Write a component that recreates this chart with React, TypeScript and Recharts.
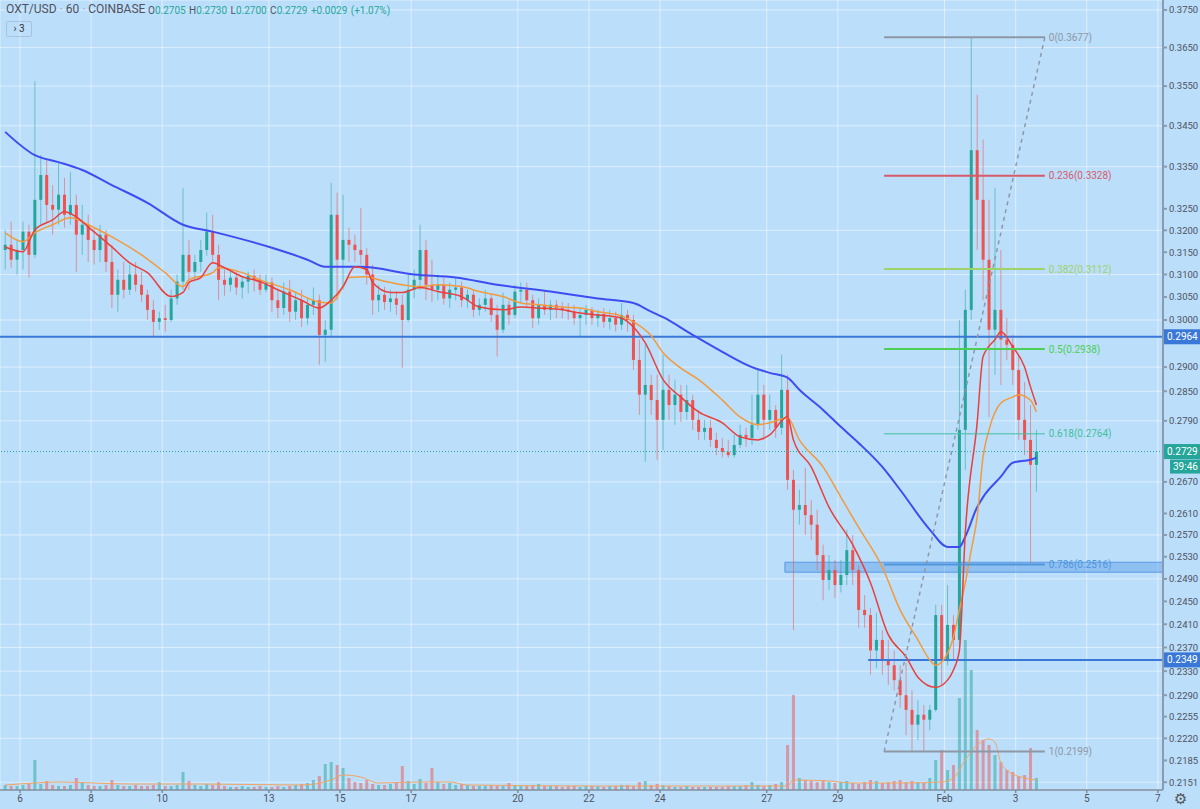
import React from 'react';
import {
  ComposedChart,
  Bar,
  Line,
  XAxis,
  YAxis,
  CartesianGrid,
  ReferenceLine,
  ReferenceArea,
} from 'recharts';

// Time is "day of January" (Feb 1 = 32). First candle opens Jan 5 12:00.
const FIRST_OPEN = 5.5;
const STEP = 1 / 6;
const X_MIN = 5.4376;
const X_MAX = 38.143;

const opens = [
  0.3155, 0.3167, 0.3133, 0.3155, 0.3197, 0.3144, 0.3271, 0.3330, 0.3259, 0.3248,
  0.3283, 0.3236, 0.3259, 0.3190, 0.3213, 0.3178, 0.3155, 0.3190, 0.3128, 0.3055,
  0.3088, 0.3066, 0.3100, 0.3077, 0.3055, 0.3022, 0.2996, 0.3004, 0.3000, 0.3047,
  0.3084, 0.3144, 0.3106, 0.3128, 0.3155, 0.3197, 0.3144, 0.3088, 0.3077, 0.3093,
  0.3071, 0.3084, 0.3097, 0.3088, 0.3066, 0.3082, 0.3043, 0.3026, 0.3062, 0.3018,
  0.3043, 0.3004, 0.3033, 0.3043, 0.2968, 0.2979, 0.3236, 0.3133, 0.3178, 0.3167,
  0.3155, 0.3144, 0.3100, 0.3043, 0.3055, 0.3039, 0.3047, 0.3033, 0.3000, 0.3066,
  0.3088, 0.3155, 0.3077, 0.3066, 0.3077, 0.3047, 0.3066, 0.3071, 0.3043, 0.3055,
  0.3022, 0.3033, 0.3047, 0.3011, 0.2979, 0.3033, 0.3011, 0.3062, 0.3066, 0.3043,
  0.3004, 0.3033, 0.3022, 0.3033, 0.3026, 0.3022, 0.3018, 0.3004, 0.3011, 0.3022,
  0.3004, 0.3013, 0.2996, 0.3004, 0.2990, 0.3011, 0.3000, 0.2915, 0.2843, 0.2863,
  0.2832, 0.2792, 0.2853, 0.2822, 0.2843, 0.2808, 0.2832, 0.2792, 0.2768, 0.2776,
  0.2752, 0.2736, 0.2728, 0.2722, 0.2742, 0.2762, 0.2756, 0.2782, 0.2843, 0.2792,
  0.2812, 0.2776, 0.2853, 0.2674, 0.2617, 0.2626, 0.2607, 0.2589, 0.2533, 0.2488,
  0.2506, 0.2479, 0.2497, 0.2542, 0.2506, 0.2435, 0.2426, 0.2365, 0.2383, 0.2349,
  0.2340, 0.2315, 0.2290, 0.2266, 0.2242, 0.2258, 0.2250, 0.2266, 0.2426, 0.2349,
  0.2409, 0.2383, 0.2772, 0.3022, 0.3390, 0.3271, 0.3133, 0.2979, 0.3022, 0.2958,
  0.2947, 0.2894, 0.2792, 0.2752, 0.2703,
];
const highs = [
  0.3201, 0.3220, 0.3178, 0.3220, 0.3213, 0.3563, 0.3378, 0.3366, 0.3306, 0.3361,
  0.3323, 0.3337, 0.3283, 0.3259, 0.3236, 0.3206, 0.3213, 0.3201, 0.3167, 0.3111,
  0.3128, 0.3122, 0.3128, 0.3106, 0.3066, 0.3043, 0.3018, 0.3033, 0.3066, 0.3100,
  0.3299, 0.3178, 0.3144, 0.3178, 0.3241, 0.3236, 0.3167, 0.3111, 0.3106, 0.3106,
  0.3093, 0.3106, 0.3111, 0.3100, 0.3100, 0.3093, 0.3066, 0.3082, 0.3088, 0.3062,
  0.3066, 0.3047, 0.3071, 0.3055, 0.3000, 0.3311, 0.3288, 0.3283, 0.3206, 0.3190,
  0.3252, 0.3160, 0.3122, 0.3077, 0.3073, 0.3066, 0.3062, 0.3055, 0.3100, 0.3111,
  0.3213, 0.3178, 0.3133, 0.3100, 0.3093, 0.3082, 0.3093, 0.3084, 0.3066, 0.3066,
  0.3047, 0.3066, 0.3055, 0.3033, 0.3060, 0.3043, 0.3077, 0.3082, 0.3082, 0.3055,
  0.3047, 0.3062, 0.3043, 0.3043, 0.3039, 0.3037, 0.3033, 0.3026, 0.3033, 0.3028,
  0.3022, 0.3026, 0.3022, 0.3018, 0.3037, 0.3022, 0.3011, 0.2958, 0.2947, 0.2884,
  0.2884, 0.2926, 0.2884, 0.2874, 0.2863, 0.2863, 0.2843, 0.2812, 0.2792, 0.2792,
  0.2766, 0.2756, 0.2752, 0.2762, 0.2782, 0.2776, 0.2843, 0.2894, 0.2863, 0.2843,
  0.2822, 0.2926, 0.2884, 0.2693, 0.2655, 0.2697, 0.2635, 0.2617, 0.2552, 0.2533,
  0.2524, 0.2524, 0.2580, 0.2570, 0.2515, 0.2461, 0.2438, 0.2430, 0.2400, 0.2383,
  0.2365, 0.2340, 0.2344, 0.2298, 0.2282, 0.2274, 0.2274, 0.2444, 0.2444, 0.2479,
  0.2426, 0.3000, 0.3066, 0.3677, 0.3528, 0.3416, 0.3271, 0.3299, 0.3155, 0.3004,
  0.2968, 0.2926, 0.2869, 0.2822, 0.2772,
];
const lows = [
  0.3111, 0.3115, 0.3100, 0.3111, 0.3093, 0.3137, 0.3213, 0.3220, 0.3190, 0.3213,
  0.3206, 0.3213, 0.3106, 0.3144, 0.3128, 0.3122, 0.3128, 0.3106, 0.3026, 0.3018,
  0.3047, 0.3055, 0.3062, 0.3039, 0.3000, 0.2964, 0.2979, 0.2975, 0.2996, 0.3033,
  0.3066, 0.3066, 0.3088, 0.3106, 0.3142, 0.3128, 0.3043, 0.3053, 0.3062, 0.3055,
  0.3047, 0.3058, 0.3062, 0.3055, 0.3060, 0.3018, 0.3004, 0.3011, 0.2996, 0.3000,
  0.2985, 0.2990, 0.3011, 0.2905, 0.2911, 0.2962, 0.3043, 0.3066, 0.3128, 0.3128,
  0.3122, 0.3077, 0.3011, 0.3018, 0.3022, 0.3018, 0.3011, 0.2898, 0.2996, 0.3047,
  0.3066, 0.3043, 0.3039, 0.3043, 0.3033, 0.3026, 0.3043, 0.3028, 0.3026, 0.3006,
  0.3009, 0.3018, 0.2996, 0.2922, 0.2972, 0.2990, 0.3004, 0.3037, 0.3026, 0.2983,
  0.2990, 0.3011, 0.3000, 0.3004, 0.3004, 0.3000, 0.2990, 0.2964, 0.2990, 0.2990,
  0.2985, 0.2983, 0.2979, 0.2975, 0.2979, 0.2975, 0.2894, 0.2802, 0.2709, 0.2802,
  0.2713, 0.2732, 0.2792, 0.2782, 0.2788, 0.2792, 0.2772, 0.2752, 0.2752, 0.2738,
  0.2722, 0.2717, 0.2717, 0.2717, 0.2736, 0.2738, 0.2742, 0.2772, 0.2752, 0.2772,
  0.2756, 0.2762, 0.2655, 0.2400, 0.2589, 0.2570, 0.2561, 0.2506, 0.2452, 0.2470,
  0.2456, 0.2466, 0.2479, 0.2479, 0.2404, 0.2404, 0.2324, 0.2335, 0.2324, 0.2307,
  0.2298, 0.2269, 0.2225, 0.2199, 0.2217, 0.2199, 0.2233, 0.2263, 0.2307, 0.2340,
  0.2349, 0.2374, 0.2693, 0.3000, 0.3155, 0.3043, 0.2798, 0.2884, 0.2863, 0.2915,
  0.2863, 0.2752, 0.2722, 0.2519, 0.2651,
];
const closes = [
  0.3167, 0.3133, 0.3155, 0.3197, 0.3144, 0.3271, 0.3330, 0.3259, 0.3248, 0.3283,
  0.3236, 0.3259, 0.3190, 0.3213, 0.3178, 0.3155, 0.3190, 0.3128, 0.3055, 0.3088,
  0.3066, 0.3100, 0.3077, 0.3055, 0.3022, 0.2996, 0.3004, 0.3000, 0.3047, 0.3084,
  0.3144, 0.3106, 0.3128, 0.3155, 0.3197, 0.3144, 0.3088, 0.3077, 0.3093, 0.3071,
  0.3084, 0.3097, 0.3088, 0.3066, 0.3082, 0.3043, 0.3026, 0.3062, 0.3018, 0.3043,
  0.3004, 0.3033, 0.3043, 0.2968, 0.2979, 0.3236, 0.3133, 0.3178, 0.3167, 0.3155,
  0.3144, 0.3100, 0.3043, 0.3055, 0.3039, 0.3047, 0.3033, 0.3000, 0.3066, 0.3088,
  0.3155, 0.3077, 0.3066, 0.3077, 0.3047, 0.3066, 0.3071, 0.3043, 0.3055, 0.3022,
  0.3033, 0.3047, 0.3011, 0.2979, 0.3033, 0.3011, 0.3062, 0.3066, 0.3043, 0.3004,
  0.3033, 0.3022, 0.3033, 0.3026, 0.3022, 0.3018, 0.3004, 0.3011, 0.3022, 0.3004,
  0.3013, 0.2996, 0.3004, 0.2990, 0.3011, 0.3000, 0.2915, 0.2843, 0.2863, 0.2832,
  0.2792, 0.2853, 0.2822, 0.2843, 0.2808, 0.2832, 0.2792, 0.2768, 0.2776, 0.2752,
  0.2736, 0.2728, 0.2722, 0.2742, 0.2762, 0.2756, 0.2782, 0.2843, 0.2792, 0.2812,
  0.2776, 0.2853, 0.2674, 0.2617, 0.2626, 0.2607, 0.2589, 0.2533, 0.2488, 0.2506,
  0.2479, 0.2497, 0.2542, 0.2506, 0.2435, 0.2426, 0.2365, 0.2383, 0.2349, 0.2340,
  0.2315, 0.2290, 0.2266, 0.2242, 0.2258, 0.2250, 0.2266, 0.2426, 0.2349, 0.2409,
  0.2383, 0.2772, 0.3022, 0.3390, 0.3271, 0.3133, 0.2979, 0.3022, 0.2958, 0.2947,
  0.2894, 0.2792, 0.2752, 0.2703, 0.2729,
];
// volume, thousands of OXT per 4h bar (rough)
const volumes = [
  5, 4, 4, 5, 6, 30, 6, 9, 5, 4,
  4, 5, 12, 7, 5, 4, 4, 5, 10, 5,
  4, 4, 5, 4, 4, 5, 8, 4, 4, 5,
  18, 9, 5, 4, 6, 5, 8, 4, 3, 3,
  4, 3, 3, 4, 3, 3, 4, 3, 4, 5,
  6, 7, 10, 14, 26, 28, 25, 22, 12, 8,
  7, 10, 6, 5, 5, 6, 7, 24, 9, 6,
  11, 7, 22, 8, 6, 7, 5, 6, 5, 4,
  4, 4, 5, 4, 4, 7, 5, 4, 4, 5,
  6, 4, 4, 4, 3, 4, 4, 3, 4, 4,
  4, 3, 4, 4, 5, 5, 4, 8, 9, 5,
  6, 5, 4, 3, 3, 4, 3, 3, 3, 3,
  3, 3, 4, 4, 4, 5, 8, 5, 4, 5,
  6, 8, 45, 95, 12, 10, 9, 8, 10, 8,
  7, 8, 9, 7, 6, 8, 10, 9, 7, 8,
  9, 10, 8, 9, 8, 7, 12, 30, 40, 20,
  25, 92, 150, 120, 60, 50, 45, 35, 28, 20,
  18, 14, 15, 42, 12,
];

// moving averages, [day, price]
const maSlow = [
  [5.44, 0.3435], [6.37, 0.3378], [7.12, 0.3361], [7.69, 0.3342], [8.53, 0.3306],
  [9.66, 0.3264], [10.58, 0.3213], [11.48, 0.3197], [13.03, 0.316], [14.16, 0.3133],
  [14.58, 0.3117], [15.56, 0.3117], [17.05, 0.31], [18.18, 0.3093], [19.41, 0.3077],
  [20.99, 0.3062], [22.23, 0.3047], [23.24, 0.3037], [23.72, 0.3018], [24.0, 0.3006],
  [24.84, 0.2968], [25.69, 0.2932], [26.53, 0.29], [27.09, 0.2888], [27.51, 0.2878],
  [27.93, 0.2853], [28.5, 0.2812], [29.06, 0.2778], [29.62, 0.2746], [30.18, 0.2699],
  [30.75, 0.2655], [31.59, 0.258], [32.15, 0.2548], [32.35, 0.2548], [32.57, 0.2567],
  [32.86, 0.2622], [33.14, 0.2641], [33.56, 0.268], [33.98, 0.2707], [34.4, 0.2713],
  [34.6, 0.2717],
];
const maMid = [
  [5.44, 0.3194], [6.0, 0.3174], [6.37, 0.3194], [6.84, 0.3213], [7.49, 0.3229],
  [7.97, 0.3213], [8.53, 0.3185], [9.37, 0.3144], [10.08, 0.3104], [10.5, 0.3073],
  [10.78, 0.3088], [11.34, 0.3104], [11.62, 0.3115], [12.19, 0.3104], [12.75, 0.3088],
  [13.59, 0.3066], [14.44, 0.3039], [14.72, 0.3037], [15.0, 0.3073], [15.28, 0.3093],
  [15.7, 0.3095], [16.12, 0.3088], [16.69, 0.3077], [17.25, 0.3073], [17.81, 0.3077],
  [18.37, 0.3073], [18.94, 0.3062], [19.5, 0.3051], [20.06, 0.3037], [20.62, 0.3033],
  [21.19, 0.3028], [21.75, 0.3026], [22.31, 0.3018], [22.87, 0.3009], [23.29, 0.2996],
  [23.72, 0.2966], [24.0, 0.293], [24.56, 0.2898], [25.12, 0.2874], [25.69, 0.2832],
  [26.25, 0.2798], [26.67, 0.2782], [27.09, 0.2786], [27.51, 0.2796], [27.93, 0.2752],
  [28.5, 0.2699], [29.06, 0.2641], [29.62, 0.2584], [30.18, 0.2511], [30.75, 0.2435],
  [31.17, 0.2383], [31.59, 0.2349], [31.73, 0.234], [32.01, 0.2349], [32.15, 0.236],
  [32.29, 0.2388], [32.43, 0.2435], [32.57, 0.2483], [32.72, 0.2542], [32.86, 0.2603],
  [33.0, 0.268], [33.14, 0.2719], [33.28, 0.2772], [33.56, 0.2826], [33.84, 0.2838],
  [34.12, 0.2843], [34.4, 0.2832], [34.63, 0.2808],
];
const maFast = [
  [5.44, 0.3162], [6.0, 0.3151], [6.37, 0.3201], [6.84, 0.3224], [7.27, 0.3243],
  [7.55, 0.3231], [7.97, 0.3208], [8.53, 0.3162], [9.09, 0.3126], [9.66, 0.3104],
  [10.22, 0.3051], [10.5, 0.306], [10.78, 0.3082], [11.06, 0.3093], [11.48, 0.3126],
  [11.76, 0.3115], [12.19, 0.3095], [12.75, 0.3084], [13.31, 0.3066], [13.87, 0.3043],
  [14.44, 0.3026], [14.72, 0.3043], [15.0, 0.3073], [15.42, 0.3117], [15.7, 0.3111],
  [15.98, 0.3082], [16.4, 0.306], [16.83, 0.306], [17.25, 0.3071], [17.81, 0.3062],
  [18.37, 0.3051], [18.94, 0.3028], [19.5, 0.3022], [20.06, 0.3028], [20.62, 0.3026],
  [21.19, 0.3022], [21.75, 0.3015], [22.31, 0.3011], [22.87, 0.3004], [23.29, 0.2985],
  [23.58, 0.2951], [24.0, 0.2874], [24.56, 0.2838], [25.12, 0.2808], [25.69, 0.2786],
  [26.25, 0.2758], [26.67, 0.2752], [27.09, 0.2762], [27.51, 0.2798], [27.79, 0.2752],
  [28.22, 0.2699], [28.78, 0.2622], [29.34, 0.2552], [29.9, 0.2483], [30.47, 0.2392],
  [30.94, 0.2354], [31.31, 0.232], [31.67, 0.2282], [31.79, 0.2303], [32.01, 0.2315],
  [32.21, 0.2332], [32.35, 0.2365], [32.52, 0.2452], [32.66, 0.2574], [32.86, 0.2786],
  [33.0, 0.2888], [33.14, 0.2922], [33.36, 0.2958], [33.64, 0.2975], [33.92, 0.2943],
  [34.21, 0.29], [34.4, 0.2859], [34.63, 0.2822],
];
const volAvg = [
  [5.44, 5], [6.42, 7], [7.12, 8], [9.09, 6], [11.06, 6], [13.87, 5], [14.72, 10],
  [15.14, 15], [15.56, 13], [16.12, 7], [17.25, 8], [18.09, 8], [18.65, 5], [22.31, 4],
  [25.12, 4], [27.51, 4], [27.79, 10], [28.78, 9], [29.34, 7], [30.75, 7], [31.87, 8],
  [32.29, 12], [32.57, 30], [32.86, 45], [33.2, 51], [33.39, 48], [33.56, 27],
  [33.81, 20], [34.26, 12], [34.6, 10],
];

const dayTicks = [6, 8, 10, 13, 15, 17, 20, 22, 24, 27, 29, 32, 34, 36, 38];
const priceTicks = [
  0.375, 0.365, 0.355, 0.345, 0.335, 0.325, 0.32, 0.315, 0.31, 0.305, 0.3,
  0.29, 0.285, 0.279, 0.267, 0.261, 0.257, 0.253, 0.249, 0.245, 0.241, 0.237,
  0.233, 0.229, 0.2255, 0.222, 0.2185, 0.2151,
];

// drawings
const SUPPORT = 0.2964;
const LOWER_LEVEL = 0.2349;
const LOWER_FROM = 29.85;
const LAST_PRICE = 0.2729;
const COUNTDOWN = '39:46';
const FIB_FROM = 30.3;
const FIB_TO = 34.82;
const fibLevels = ['0', '0.236', '0.382', '0.5', '0.618', '0.786', '1'];
const fibPrices = [0.3677, 0.3328, 0.3112, 0.2938, 0.2764, 0.2516, 0.2199];
const fibColors = ['#8e98a4', '#d65a6a', '#9fd36a', '#4ccf52', '#3fbf9c', '#4f95dc', '#8e98a4'];
const BAND_FROM = 27.51;
const BAND_LOW = 0.2502;
const BAND_HIGH = 0.252;

const BG = '#bbdefb';
const UP = '#26a69a';
const DOWN = '#ef5350';
const TEXT = '#4e5260';
const LINE_BLUE = '#3a78d8';

const rows: any[] = opens.map((o, i) => ({
  t: FIRST_OPEN + STEP * (i + 0.5),
  open: o,
  high: highs[i],
  low: lows[i],
  close: closes[i],
  vol: volumes[i],
}));
// snap each sampled point to the nearest candle row
const attach = (list: number[][], key: string) =>
  list.forEach(([d, v]) => {
    const i = Math.min(rows.length - 1, Math.max(0, Math.round((d - FIRST_OPEN) / STEP - 0.5)));
    rows[i][key] = v;
  });
attach(maSlow, 'maSlow');
attach(maMid, 'maMid');
attach(maFast, 'maFast');
attach(volAvg, 'volAvg');

const Candle = (p: any) => {
  const { x, y, width, height, payload } = p;
  if (!payload || payload.high == null) return null;
  const top = Math.min(y, y + height);
  const h = Math.abs(height);
  const { open, close, high, low } = payload;
  const span = Math.log(high / low);
  const at = (v: number) => top + (span > 0 ? (h * Math.log(high / v)) / span : 0);
  const cx = x + width / 2;
  const c = close >= open ? UP : DOWN;
  const bt = at(Math.max(open, close));
  const bb = at(Math.min(open, close));
  return (
    <g>
      <line x1={cx} x2={cx} y1={top} y2={top + h} stroke={c} strokeOpacity={0.55} />
      <rect x={cx - 1.5} y={bt} width={3} height={Math.max(1, bb - bt)} fill={c} />
    </g>
  );
};

const VolBar = (p: any) => {
  const { x, y, width, height, payload } = p;
  if (!payload) return null;
  const c = payload.close >= payload.open ? UP : DOWN;
  return <rect x={x + width / 2 - 1.5} y={Math.min(y, y + height)} width={3} height={Math.abs(height)} fill={c} fillOpacity={0.5} />;
};

const PriceTag = ({ viewBox, text, fill, sub }: any) => {
  if (!viewBox) return null;
  const x = viewBox.x + viewBox.width;
  const y = viewBox.y;
  return (
    <g>
      <rect x={x} y={y - 7.5} width={37} height={15} fill={fill} />
      <text x={x + 4} y={y + 3.5} fill="#fff" fontSize={10}>{text}</text>
      {sub && (
        <g>
          <rect x={x + 7} y={y + 8} width={30} height={14} fill={fill} />
          <text x={x + 10} y={y + 18.5} fill="#fff" fontSize={10}>{sub}</text>
        </g>
      )}
    </g>
  );
};

const dayLabel = (d: number) => (d < 32 ? String(d) : d === 32 ? 'Feb' : String(d - 31));

const lineProps = {
  xAxisId: 't',
  yAxisId: 'price',
  dot: false,
  activeDot: false,
  connectNulls: true,
  type: 'monotone' as const,
  isAnimationActive: false,
};

export default function App() {
  return (
    <div
      style={{
        position: 'fixed',
        left: 0,
        top: 0,
        width: 1200,
        height: 809,
        background: BG,
        overflow: 'hidden',
        fontFamily: 'Roboto, "Open Sans", sans-serif',
      }}
    >
      <ComposedChart width={1200} height={809} data={rows} margin={{ top: 0, right: 0, bottom: 0, left: 0 }}>
        <CartesianGrid xAxisId="t" yAxisId="price" stroke="#ffffff" strokeOpacity={0.5} />
        <XAxis
          xAxisId="t"
          dataKey="t"
          type="number"
          domain={[X_MIN, X_MAX]}
          allowDataOverflow
          ticks={dayTicks}
          tickFormatter={dayLabel}
          height={19}
          tick={{ fill: TEXT, fontSize: 10 }}
          tickSize={3}
          tickMargin={2}
          stroke="#7e8c9c"
          strokeWidth={1.5}
        />
        <XAxis xAxisId="vx" dataKey="t" type="number" domain={[X_MIN, X_MAX]} allowDataOverflow hide />
        <YAxis
          yAxisId="price"
          orientation="right"
          scale="log"
          domain={[0.2139, 0.3777]}
          allowDataOverflow
          ticks={priceTicks}
          tickFormatter={(v: number) => v.toFixed(4)}
          width={37}
          tick={{ fill: TEXT, fontSize: 9.5 }}
          tickSize={4}
          tickMargin={2}
          stroke="#8a9bb0"
          strokeWidth={2}
        />
        <YAxis yAxisId="vol" domain={[0, 790]} hide />

        <ReferenceArea
          xAxisId="t"
          yAxisId="price"
          x1={BAND_FROM}
          x2={X_MAX}
          y1={BAND_LOW}
          y2={BAND_HIGH}
          fill="#5b9be6"
          fillOpacity={0.45}
          stroke="#4a8de0"
          strokeOpacity={0.8}
        />

        <Bar xAxisId="vx" yAxisId="vol" dataKey="vol" barSize={4} shape={VolBar} isAnimationActive={false} />
        <Line {...lineProps} xAxisId="vx" yAxisId="vol" dataKey="volAvg" stroke="#f4a460" strokeWidth={1} />

        <ReferenceLine
          xAxisId="t"
          yAxisId="price"
          y={LAST_PRICE}
          stroke={UP}
          strokeDasharray="1 2"
          label={(props: any) => <PriceTag viewBox={props.viewBox} text={LAST_PRICE.toFixed(4)} fill={UP} sub={COUNTDOWN} />}
        />
        <ReferenceLine
          xAxisId="t"
          yAxisId="price"
          y={SUPPORT}
          stroke={LINE_BLUE}
          strokeWidth={2}
          label={(props: any) => <PriceTag viewBox={props.viewBox} text={SUPPORT.toFixed(4)} fill={LINE_BLUE} />}
        />
        <ReferenceLine
          xAxisId="t"
          yAxisId="price"
          segment={[
            { x: LOWER_FROM, y: LOWER_LEVEL },
            { x: X_MAX, y: LOWER_LEVEL },
          ]}
          stroke={LINE_BLUE}
          strokeWidth={2}
          label={(props: any) => <PriceTag viewBox={props.viewBox} text={LOWER_LEVEL.toFixed(4)} fill={LINE_BLUE} />}
        />

        <Bar
          xAxisId="t"
          yAxisId="price"
          dataKey={(d: any) => [d.low, d.high]}
          barSize={4}
          shape={Candle}
          isAnimationActive={false}
        />

        <Line {...lineProps} dataKey="maSlow" stroke="#3d4df2" strokeWidth={2} />
        <Line {...lineProps} dataKey="maMid" stroke="#f39a3c" strokeWidth={1.5} />
        <Line {...lineProps} dataKey="maFast" stroke="#e8403b" strokeWidth={1.5} />

        <ReferenceLine
          xAxisId="t"
          yAxisId="price"
          segment={[
            { x: FIB_FROM, y: fibPrices[6] },
            { x: FIB_TO, y: fibPrices[0] },
          ]}
          stroke="#8e98a4"
          strokeWidth={1.5}
          strokeDasharray="4 4"
        />
        {fibLevels.map((lvl, i) => (
          <ReferenceLine
            key={lvl}
            xAxisId="t"
            yAxisId="price"
            segment={[
              { x: FIB_FROM, y: fibPrices[i] },
              { x: FIB_TO, y: fibPrices[i] },
            ]}
            stroke={fibColors[i]}
            strokeWidth={lvl === '0.618' ? 1 : 2}
            label={{ value: `${lvl}(${fibPrices[i].toFixed(4)})`, position: 'right', fill: fibColors[i], fontSize: 10, offset: 4 }}
          />
        ))}
      </ComposedChart>

      <div style={{ position: 'absolute', left: 6, top: 2, fontSize: 12, color: TEXT, whiteSpace: 'nowrap' }}>
        OXT/USD <span style={{ color: '#9aa4b0' }}>·</span> 60 <span style={{ color: '#9aa4b0' }}>·</span> COINBASE
      </div>
      <div style={{ position: 'absolute', left: 148, top: 4.5, fontSize: 10, color: TEXT, whiteSpace: 'nowrap', wordSpacing: 1 }}>
        O<span style={{ color: UP }}>0.2705</span> H<span style={{ color: UP }}>0.2730</span> L
        <span style={{ color: UP }}>0.2700</span> C<span style={{ color: UP }}>0.2729</span>{' '}
        <span style={{ color: UP }}>+0.0029 (+1.07%)</span>
      </div>
      <div
        style={{
          position: 'absolute',
          left: 6,
          top: 21,
          width: 24,
          height: 14,
          border: '1px solid #a8c4dc',
          borderRadius: 2,
          fontSize: 10,
          color: '#333',
          lineHeight: '14px',
          textAlign: 'center',
        }}
      >
        › 3
      </div>
      <div style={{ position: 'absolute', left: 1174, top: 790, fontSize: 15, color: '#555', fontFamily: 'DejaVu Sans' }}>⚙</div>
    </div>
  );
}
